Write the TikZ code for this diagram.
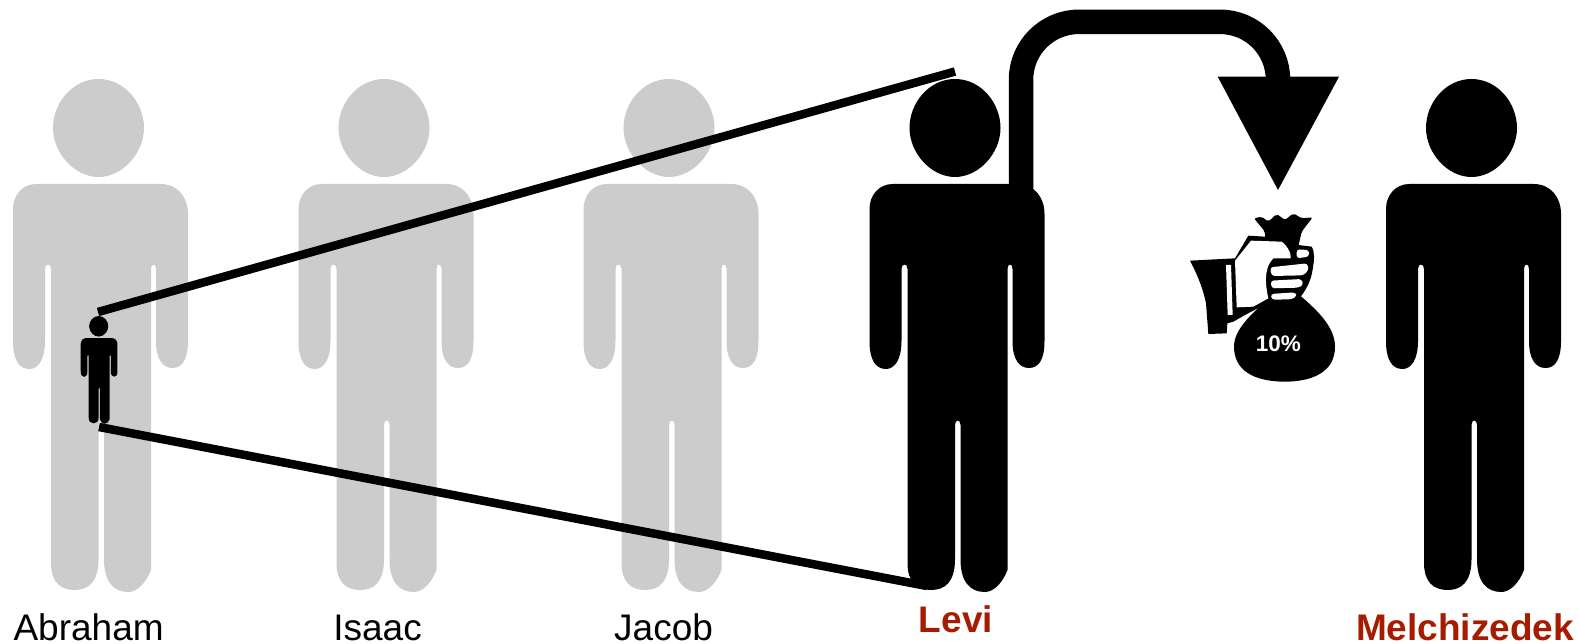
\documentclass[tikz,border=0pt]{standalone}
\usepackage{fontspec}
\setmainfont{Liberation Sans}
\usetikzlibrary{positioning}
\definecolor{ghost}{HTML}{CCCCCC}
\definecolor{darkred}{HTML}{A61C00}
\tikzset{person/.pic={
\path[pic actions] (0,0) .. controls (26,0) and (45.5,24) .. (45.5,49) .. controls (45.5,74) and (24,98) .. (0,98) .. controls (-24,98) and (-45.5,74) .. (-45.5,49) .. controls (-45.5,24) and (-26,0) .. (0,0) -- cycle;
\path[pic actions] (-62,105) -- (62,105) .. controls (79,105) and (89.5,118) .. (89.5,135) -- (89.5,262) .. controls (89.5,280) and (84,289) .. (74,289) .. controls (64,289) and (57.5,280) .. (57.5,262) -- (57.5,190) .. controls (57.5,184) and (52.5,184) .. (52.5,190) -- (52.5,491) .. controls (47,505) and (38,513) .. (30,513) .. controls (15,513) and (5.5,503) .. (5.5,480) -- (5.5,346) .. controls (5.5,340) and (0,340) .. (0,346) -- (0,480) .. controls (0,503) and (-10,511) .. (-24,511) .. controls (-38,511) and (-47.5,503) .. (-47.5,484) -- (-47.5,190) .. controls (-47.5,184) and (-53.5,184) .. (-53.5,190) -- (-53.5,262) .. controls (-53.5,280) and (-60,290) .. (-69,290) .. controls (-80,290) and (-85.5,280) .. (-85.5,262) -- (-85.5,130) .. controls (-85.5,116) and (-76,105) .. (-62,105) -- cycle;
}}
\tikzstyle{plainlabel}=[anchor=base, inner sep=0pt, font=\fontsize{37}{37}\selectfont]
\tikzstyle{chosenlabel}=[plainlabel, text=darkred, font=\fontsize{37}{37}\selectfont\bfseries]
\tikzstyle{beam}=[line width=8.5pt]
\begin{document}
\begin{tikzpicture}[x=1pt, y=-1pt]
\useasboundingbox (0,0) rectangle (1579,644);
\pic[fill=ghost] at (98.5,79) {person};
\pic[fill=ghost] at (384,79) {person};
\pic[fill=ghost] at (669,79) {person};
\pic[fill=black] at (955,79) {person};
\pic[fill=black] at (1471.5,79) {person};
\pic[fill=black, scale=.21] at (98.7,316) {person};

\node[plainlabel] (abraham) at (88.6,640){Abraham};
\node[plainlabel] (isaac) at (377.6,640){Isaac};
\node[plainlabel] (jacob) at (663.6,640){Jacob};
\node[chosenlabel] (levi) at (956,632){Levi};
\node[chosenlabel] (melchizedek) at (1465,640){Melchizedek};

\coordinate (smallhead) at (98,312);
\coordinate (smallfoot) at (99,427);
\coordinate (levihead) at (955,71.5);
\coordinate (levifoot) at (927,586);
\draw[beam] (smallhead) -- (levihead);
\draw[beam] (smallfoot) -- (levifoot);

\coordinate (shoulder) at (1021,190);
\coordinate (drop) at (1278,80);
\draw[line width=24.5pt, rounded corners=58pt] (shoulder) -- (1021,21.8) -- (1278,21.8) -- (drop);
\fill (1217.7,76.7) -- (1339,76.7) -- (1278,190) -- cycle;

\begin{scope}[shift={(1170,190)}, x=1pt/3, y=-1pt/3]
% cuff
\fill (60,212) -- (195,205) -- (235,137) -- (335,143) .. controls (360,150) and (375,165) .. (385,165) -- (425,170) .. controls (435,185) and (432,215) .. (430,225) .. controls (425,265) and (415,290) .. (392,320) -- (310,330) -- (225,375) -- (190,395) -- (172,400) -- (170,430) -- (115,432) -- (108,340) .. controls (100,300) and (85,260) .. (60,212) -- cycle;
% bag
\fill (300,322) -- (392,318) .. controls (440,360) and (495,410) .. (495,470) .. controls (495,550) and (420,575) .. (345,575) .. controls (250,575) and (192,540) .. (192,470) .. controls (192,420) and (240,375) .. (300,322) -- cycle;
\fill[rounded corners=2pt] (252,85) -- (275,80) -- (295,95) -- (320,72) -- (345,90) -- (370,70) -- (395,85) -- (428,82) -- (395,125) -- (385,170) -- (285,150) -- (285,125) -- cycle;
% hand and fingers
\fill[white] (195,212) -- (243,152) -- (335,155) .. controls (350,165) and (365,190) .. (362,205) -- (310,205) .. controls (290,225) and (280,260) .. (295,325) -- (250,350) -- (200,352) -- cycle;
\fill[white] (168,225) -- (183,225) -- (188,375) -- (173,375) -- cycle;
\fill[white, rounded corners=3pt] (380,178) -- (417,180) -- (417,200) -- (380,205) -- cycle;
\fill[white, rounded corners=3pt] (300,232) -- (412,220) -- (416,240) -- (400,256) -- (305,258) -- cycle;
\fill[white, rounded corners=3pt] (302,272) -- (395,267) -- (400,285) -- (385,293) -- (305,295) -- cycle;
\fill[white, rounded corners=3pt] (302,312) -- (375,307) -- (381,318) -- (365,328) -- (305,329) -- cycle;
\node[text=white, inner sep=0pt, font=\fontsize{22.5}{22.5}\selectfont\bfseries] (tithe) at (325,462){10\%};
\end{scope}
\end{tikzpicture}
\end{document}
